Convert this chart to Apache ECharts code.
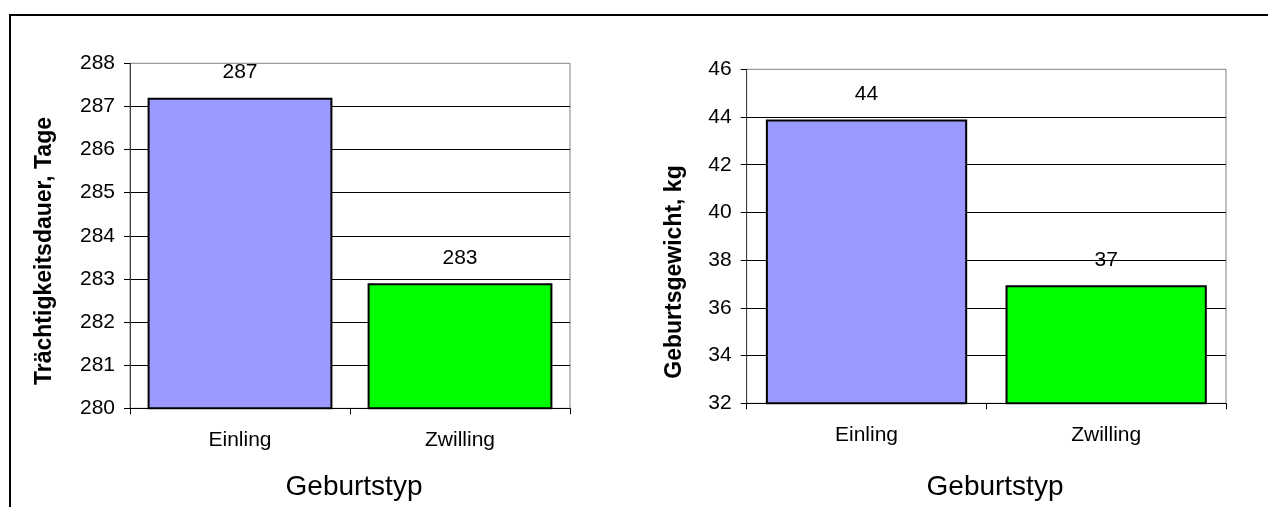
<!DOCTYPE html>
<html>
<head>
<meta charset="utf-8">
<script src="https://cdn.jsdelivr.net/npm/echarts@6/dist/echarts.min.js"></script>
<style>
  html, body { margin: 0; padding: 0; background: #fff; }
  #chart { width: 1268px; height: 507px; }
</style>
</head>
<body>
<div id="chart"></div>
<script>
// Geburtstypen (Kategorien)
const categories = ['Einling', 'Zwilling'];
// Trächtigkeitsdauer in Tagen
const gestationDays = [287.2, 282.9];
// Geburtsgewicht in kg
const birthWeightKg = [43.9, 36.95];
// Achsenbereiche
const gestationAxis = { min: 280, max: 288, interval: 1 };
const weightAxis = { min: 32, max: 46, interval: 2 };
const barColors = ['#9999FF', '#00FF00'];

const FONT = 'Liberation Sans, Arial, sans-serif';

function xAxisFor(gridIndex) {
  return {
    type: 'category',
    gridIndex,
    data: categories,
    axisLine: { lineStyle: { color: '#000', width: 1 } },
    axisTick: { show: true, length: 6, lineStyle: { color: '#000' } },
    axisLabel: { color: '#000', fontFamily: FONT, fontSize: 21, margin: 21 },
    splitLine: { show: false }
  };
}

function yAxisFor(gridIndex, range) {
  return {
    type: 'value',
    gridIndex,
    min: range.min,
    max: range.max,
    interval: range.interval,
    axisLine: { show: true, lineStyle: { color: '#404040', width: 1 } },
    axisTick: { show: true, length: 6, lineStyle: { color: '#000' } },
    axisLabel: { color: '#000', fontFamily: FONT, fontSize: 21, margin: 15 },
    splitLine: { show: true, showMaxLine: false, lineStyle: { color: '#000', width: 1 } }
  };
}

function barSeries(idx, values) {
  return {
    type: 'bar',
    xAxisIndex: idx,
    yAxisIndex: idx,
    barCategoryGap: '16%',
    data: values.map((v, i) => ({
      value: v,
      itemStyle: { color: barColors[i], borderColor: '#000', borderWidth: 2 }
    })),
    label: {
      show: true,
      position: 'top',
      distance: 15,
      color: '#000',
      fontFamily: FONT,
      fontSize: 21,
      formatter: p => Math.round(p.value)
    },
    silent: true,
    animation: false
  };
}

function titleText(text, x, y, opts) {
  return Object.assign({
    type: 'text',
    x, y,
    style: {
      text,
      fill: '#000',
      font: opts.font,
      textAlign: 'center',
      textVerticalAlign: 'middle'
    }
  }, opts.rotation ? { rotation: opts.rotation } : {});
}

const chart = echarts.init(document.getElementById('chart'), null, { renderer: 'canvas' });
chart.setOption({
  backgroundColor: '#fff',
  animation: false,
  grid: [
    { left: 130, top: 63.3, width: 440, height: 345, show: true, borderColor: '#808080', borderWidth: 1, containLabel: false },
    { left: 746.7, top: 69.3, width: 479.3, height: 334, show: true, borderColor: '#808080', borderWidth: 1, containLabel: false }
  ],
  xAxis: [xAxisFor(0), xAxisFor(1)],
  yAxis: [yAxisFor(0, gestationAxis), yAxisFor(1, weightAxis)],
  series: [barSeries(0, gestationDays), barSeries(1, birthWeightKg)],
  graphic: [
    // Rahmen (oben und links sichtbar)
    {
      type: 'rect',
      shape: { x: 10, y: 15, width: 1400, height: 700 },
      style: { fill: null, stroke: '#000', lineWidth: 2 },
      silent: true
    },
    titleText('Trächtigkeitsdauer, Tage', 45, 251, { font: 'bold 23px ' + FONT, rotation: Math.PI / 2 }),
    titleText('Geburtsgewicht, kg', 675, 272, { font: 'bold 23px ' + FONT, rotation: Math.PI / 2 }),
    titleText('Geburtstyp', 354, 487, { font: '28px ' + FONT }),
    titleText('Geburtstyp', 995, 487, { font: '28px ' + FONT })
  ]
});
</script>
</body>
</html>
